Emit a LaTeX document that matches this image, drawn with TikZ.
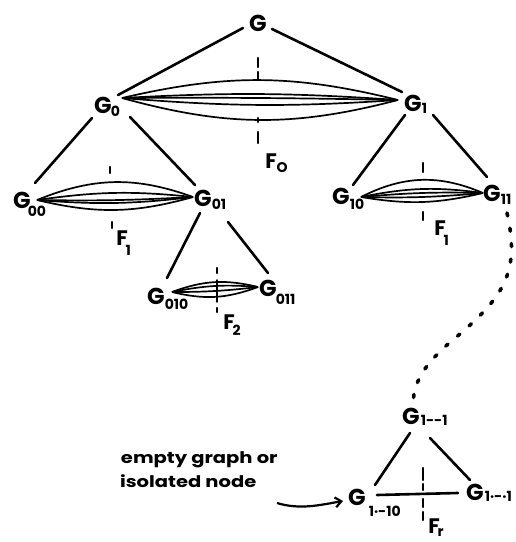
\documentclass[tikz,border=0pt]{standalone}
\usepackage{fontspec}
\setmainfont{Poppins}
\usetikzlibrary{arrows.meta}
\newcommand{\Gfnt}{\fontsize{23}{23}\selectfont\bfseries}
\newcommand{\Sfnt}{\fontsize{14}{14}\selectfont\bfseries}
% letter, raise, kern, subscript
\newcommand{\lbl}[4]{#1\rlap{\hspace{#3}\smash{\raisebox{#2}{\Sfnt #4}}}}
\newcommand{\lens}[3]{\foreach \a in {#3} {\draw[lensl] #1 to[bend left=\a] #2;}}
\begin{document}
\begin{tikzpicture}[x=1pt,y=-1pt,
  gn/.style={inner sep=0pt, outer sep=0pt, font=\Gfnt},
  fn/.style={inner sep=0pt, outer sep=0pt, font=\fontsize{21}{21}\selectfont\bfseries},
  txt/.style={inner sep=0pt, outer sep=0pt, font=\fontsize{16}{16}\selectfont\bfseries},
  edge/.style={line width=2.6pt, line cap=round},
  lensl/.style={line width=1.7pt},
  tick/.style={line width=2.2pt, line cap=round},
  dotsl/.style={line width=3.6pt, line cap=round, dash pattern=on 3pt off 12.5pt}]
\useasboundingbox (0,0) rectangle (516,542);

% graph nodes
\node[gn] (G) at (258,23) {G};
\node[gn] (G0) at (103,105) {\lbl{G}{-3pt}{-1pt}{0}};
\node[gn] (G1) at (413,103) {\lbl{G}{-2pt}{0pt}{1}};
\node[gn] (G00) at (22,200) {\lbl{G}{-8pt}{-3pt}{00}};
\node[gn] (G01) at (203,198) {\lbl{G}{-3pt}{0pt}{01}};
\node[gn] (G010) at (156,296) {\lbl{G}{-5pt}{0pt}{010}};
\node[gn] (G011) at (268,288) {\lbl{G}{-8pt}{-1pt}{011}};
\node[gn] (G10) at (341,196) {\lbl{G}{-5pt}{0pt}{10}};
\node[gn] (G11) at (492,193) {\lbl{G}{-3pt}{0pt}{11}};
\node[gn] (Gt) at (411,416) {\lbl{G}{-1pt}{1pt}{1-{}-1}};
\node[gn] (Gl) at (357,497) {\lbl{G}{-11pt}{3pt}{1·-10}};
\node[gn] (Gr) at (475,492) {\lbl{G}{-1pt}{1pt}{1·-·1}};

% cut labels
\node[fn] (F0) at (271,161) {\lbl{F}{-4pt}{0pt}{O}};
\node[fn] (F1a) at (122,238) {\lbl{F}{-10pt}{-2pt}{1}};
\node[fn] (F1b) at (440,228) {\lbl{F}{-10pt}{-2pt}{1}};
\node[fn] (F2) at (229,322) {\lbl{F}{-6pt}{-2pt}{2}};
\node[fn] (Fr) at (434,526) {\lbl{F}{-3pt}{-2pt}{r}};

% tree edges
\draw[edge] ([shift={(-15,5)}]G.center) -- ([shift={(15,-10)}]G0.center);
\draw[edge] ([shift={(14,6)}]G.center) -- ([shift={(-11,-11)}]G1.center);
\draw[edge] ([shift={(-11,13)}]G0.center) -- ([shift={(13,-17)}]G00.center);
\draw[edge] ([shift={(27,12)}]G0.center) -- ([shift={(-8,-13)}]G01.center);
\draw[edge] ([shift={(-3,15)}]G01.center) -- ([shift={(11,-18)}]G010.center);
\draw[edge] ([shift={(25,24)}]G01.center) -- ([shift={(0,-15)}]G011.center);
\draw[edge] ([shift={(-8,12)}]G1.center) -- ([shift={(12,-11)}]G10.center);
\draw[edge] ([shift={(20,12)}]G1.center) -- ([shift={(-5,-16)}]G11.center);
\draw[edge] ([shift={(-1,17)}]Gt.center) -- ([shift={(18,-12)}]Gl.center);
\draw[edge] ([shift={(19,22)}]Gt.center) -- ([shift={(-5,-12)}]Gr.center);
\draw[edge] ([shift={(20,-2)}]Gl.center) -- ([shift={(-17,1)}]Gr.center);

% lenses (bundles of cut edges)
\lens{([shift={(19,-7)}]G0.center)}{([shift={(-15,-3)}]G1.center)}{13.5,3.5,0.7,-4.2,-15}
\lens{([shift={(15,0)}]G00.center)}{([shift={(-10,-1)}]G01.center)}{21,7,-2,-5.6,-14.5}
\lens{([shift={(20,1)}]G10.center)}{([shift={(-9,0)}]G11.center)}{25,9.6,3.2,-3.2,-11.3}
\lens{([shift={(16,-4)}]G010.center)}{([shift={(-10,-1)}]G011.center)}{17,8,-3.4,-17}

% cut marks
\draw[tick] (258,58) -- (258,67);
\draw[tick] (258,72) -- (258,80);
\draw[tick] (258,118) -- (258,122);
\draw[tick] (258,132) -- (258,143);
\draw[tick] (110,167) -- (110,173);
\draw[tick] (112,222) -- (112,228);
\draw[tick] (423,163) -- (423,172);
\draw[tick] (423,212) -- (423,220);
\draw[tick] (217,268) -- (217,273);
\draw[tick,line width=1.4pt] (217,280) -- (217,302);
\draw[tick] (217,308) -- (217,312);
\draw[tick] (423,468) -- (423,480);
\draw[tick] (423,484) -- (423,490);
\draw[tick] (423,499) -- (423,507);
\draw[tick] (423,512) -- (423,520);

% dotted continuation
\draw[dotsl] ([shift={(15,20)}]G11.center) .. controls (520,270) and (505,295) .. (460,334)
  .. controls (420,366) and (413,385) .. ([shift={(2,-9)}]Gt.center);

% annotation
\node[txt, anchor=base west] (t1) at (121,463) {\scalebox{1.22}[1]{empty graph or}};
\node[txt, anchor=base west] (t2) at (120,487) {\scalebox{1.22}[1]{isolated node}};
\coordinate (as) at (277,503);
\draw[line width=2.2pt, -{Straight Barb[length=6pt,width=10pt]}] (as) .. controls (300,510) and (320,505) .. ([shift={(-14,4)}]Gl.center);
\end{tikzpicture}
\end{document}
